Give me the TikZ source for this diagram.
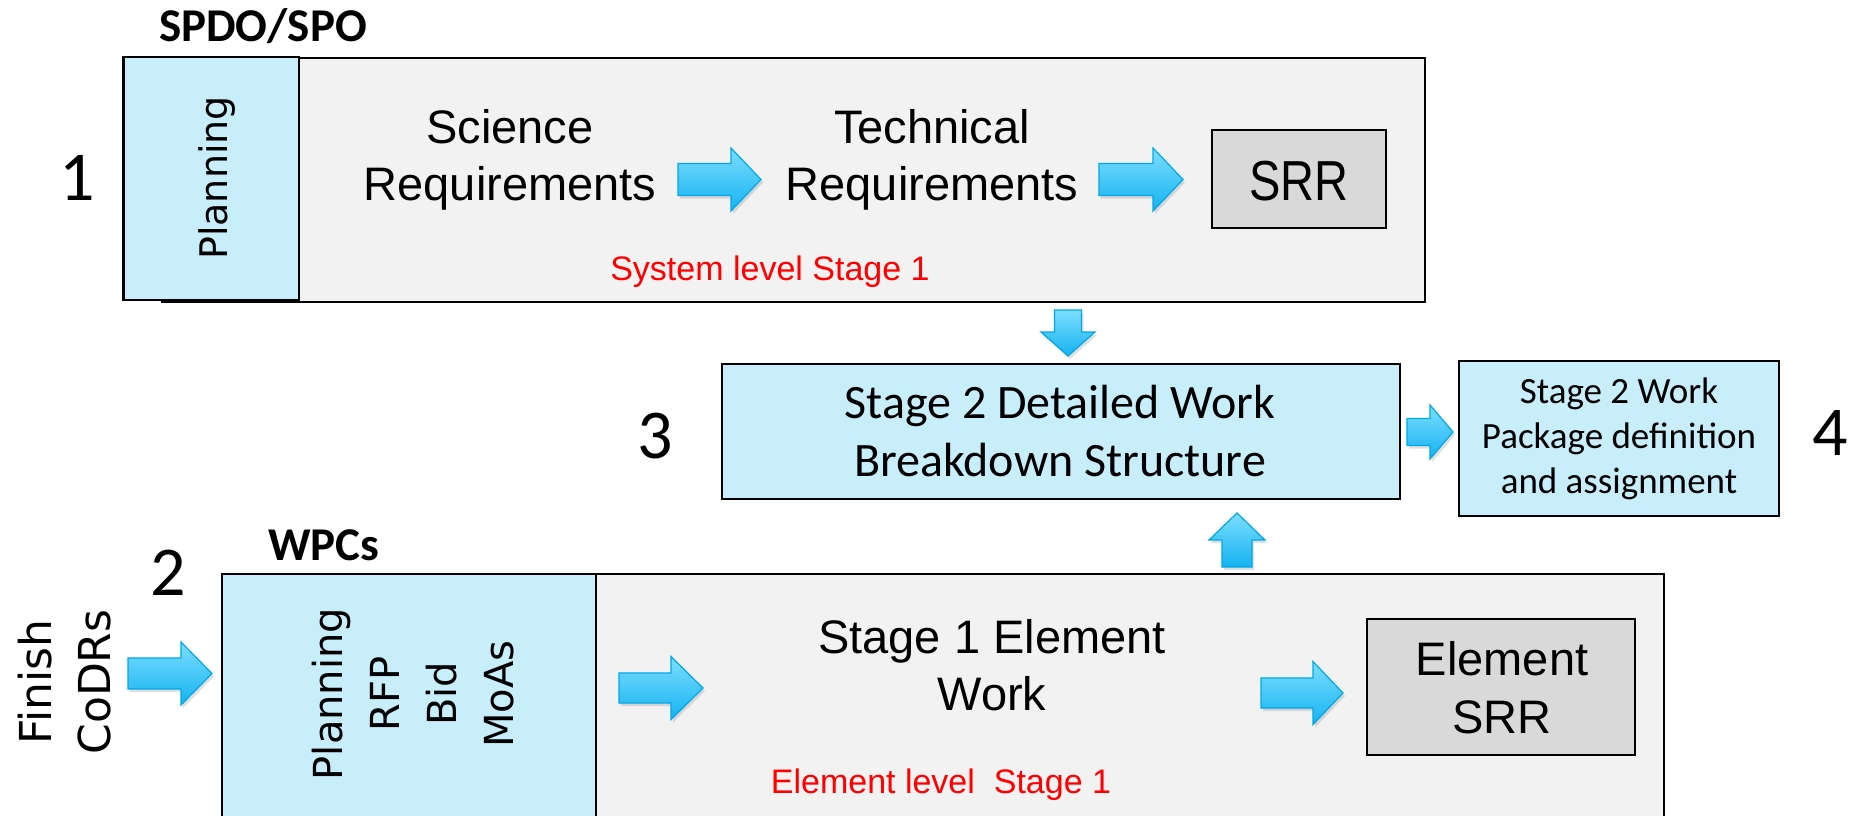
\documentclass[tikz,border=0pt]{standalone}
\usepackage{fontspec}
\usepackage{graphicx}
\setmainfont{Liberation Sans}
\newfontfamily\arialf{Liberation Sans}
\newfontfamily\calib{Carlito}
\newfontfamily\verd{DejaVu Sans}
\usetikzlibrary{shadows}
\definecolor{boxcyan}{RGB}{200,238,252}
\definecolor{boxgray}{RGB}{242,242,242}
\definecolor{srrgray}{RGB}{217,217,217}
\definecolor{arrtop}{RGB}{125,222,255}
\definecolor{arrbot}{RGB}{20,178,240}
\definecolor{arredge}{RGB}{0,168,232}
\definecolor{redtxt}{RGB}{255,0,0}
\newcommand{\fsz}[2]{\fontsize{#1}{#2}\selectfont}
\tikzset{
  every node/.style={inner sep=0pt, outer sep=0pt},
  frame/.style={draw=black, line width=2.5pt},
  cyanbox/.style={frame, fill=boxcyan, anchor=north west},
  graybox/.style={frame, fill=boxgray, anchor=north west},
  srrbox/.style={frame, fill=srrgray, anchor=north west},
  blockarr/.style={top color=arrtop, bottom color=arrbot, draw=arredge, line width=1.2pt, line join=miter,
     drop shadow={shadow xshift=2pt, shadow yshift=-3pt, opacity=0.25}},
  lbl/.style={font=\arialf\fsz{47}{57}, align=center, anchor=base},
  redlbl/.style={font=\arialf\fsz{34}{40}, text=redtxt, anchor=base},
  caliblbl/.style={font=\calib\fsz{48}{58}, align=center, anchor=base},
  numlbl/.style={font=\calib\fsz{70}{80}, anchor=base},
  headlbl/.style={font=\calib\bfseries\fsz{47}{56}, anchor=base west},
  vertlbl/.style={font=\verd\fsz{40}{57}, align=center, anchor=base, rotate=90},
}
\newcommand{\barrow}[8]{%
  \begin{scope}[shift={(#2,#3)}, rotate=#4]
    \path[blockarr] ({-#5/2},{-#7}) -- ({#5/2-#6},{-#7}) -- ({#5/2-#6},{-#8}) -- ({#5/2},0)
      -- ({#5/2-#6},{#8}) -- ({#5/2-#6},{#7}) -- ({-#5/2},{#7}) -- cycle;
    \coordinate (#1) at (0,0);
  \end{scope}}
\begin{document}
\begin{tikzpicture}[x=1pt, y=-1pt]
\clip (0,0) rectangle (1858,815);
\fill[white] (0,0) rectangle (1858,815);

% ---------- top group (system level)
\node[graybox, minimum width=1263pt, minimum height=244pt] (sysbox) at (162,58) {};
\node[cyanbox, minimum width=175.5pt, minimum height=243pt] (sysplan) at (123.5,57) {};
\node[headlbl] (spdo) at (159,41) {SPDO/SPO};
\node[numlbl] (n1) at (77,200) {1};
\node[vertlbl, font=\verd\fsz{38}{50}] (plan1) at (227,178) {Planning};
\node[lbl] (sci) at (510,200) {Science\\Requirements};
\node[lbl] (tech) at (932,200) {Technical\\Requirements};
\barrow{a1}{719.5}{179.5}{0}{83}{30}{16}{31.5}
\barrow{a2}{1141}{179.5}{0}{84}{30}{16}{31.5}
\node[srrbox, minimum width=174pt, minimum height=98pt] (srrbox) at (1212,130) {};
\node[lbl, font=\arialf\fsz{47}{60}] (srr) at (1299,200) {\scalebox{1}[1.2]{SRR}};
\node[redlbl] (sysl) at (770,280) {System level Stage 1};

% ---------- middle
\barrow{ad}{1068}{333}{-90}{46}{24}{13.5}{27}
\node[cyanbox, minimum width=678pt, minimum height=135pt] (wbsbox) at (722,364) {};
\node[caliblbl] (wbs) at (1060,476) {Stage 2 Detailed Work\\Breakdown Structure};
\node[numlbl] (n3) at (655,458) {3};
\barrow{ar}{1430}{432}{0}{46}{23}{13.5}{27}
\node[cyanbox, minimum width=320pt, minimum height=155pt] (wpbox) at (1459,361) {};
\node[caliblbl, font=\calib\fsz{37}{45}] (wp) at (1619,493) {Stage 2 Work\\Package definition\\and assignment};
\node[numlbl] (n4) at (1830,455) {4};
\barrow{au}{1237}{540}{90}{54}{27}{15}{28}

% ---------- bottom group (element level)
\node[graybox, minimum width=1068pt, minimum height=260pt] (elbox) at (596,574) {};
\node[cyanbox, minimum width=374pt, minimum height=260pt] (elplan) at (222,574) {};
\node[headlbl] (wpcs) at (268,560) {WPCs};
\node[numlbl] (n2) at (168,595) {2};
\node[vertlbl, font=\verd\fsz{44}{59}] (finish) at (110,682) {Finish\\CoDRs};
\barrow{af}{170}{673.5}{0}{84}{31}{15.5}{31.5}
\node[vertlbl] (plan2) at (513,694) {Planning\\RFP\\Bid\\MoAs};
\barrow{b1}{661}{688}{0}{84}{32}{15}{31.5}
\node[lbl] (s1) at (992,710) {Stage 1 Element\\Work};
\barrow{b2}{1302}{693}{0}{82}{30}{15}{31.5}
\node[srrbox, minimum width=268pt, minimum height=136pt] (esrrbox) at (1367,619) {};
\node[lbl, font=\arialf\fsz{47}{58}] (esrr) at (1502,733) {Element\\SRR};
\node[redlbl] (ell) at (941,793) {Element level\ \ Stage 1};
\end{tikzpicture}
\end{document}
